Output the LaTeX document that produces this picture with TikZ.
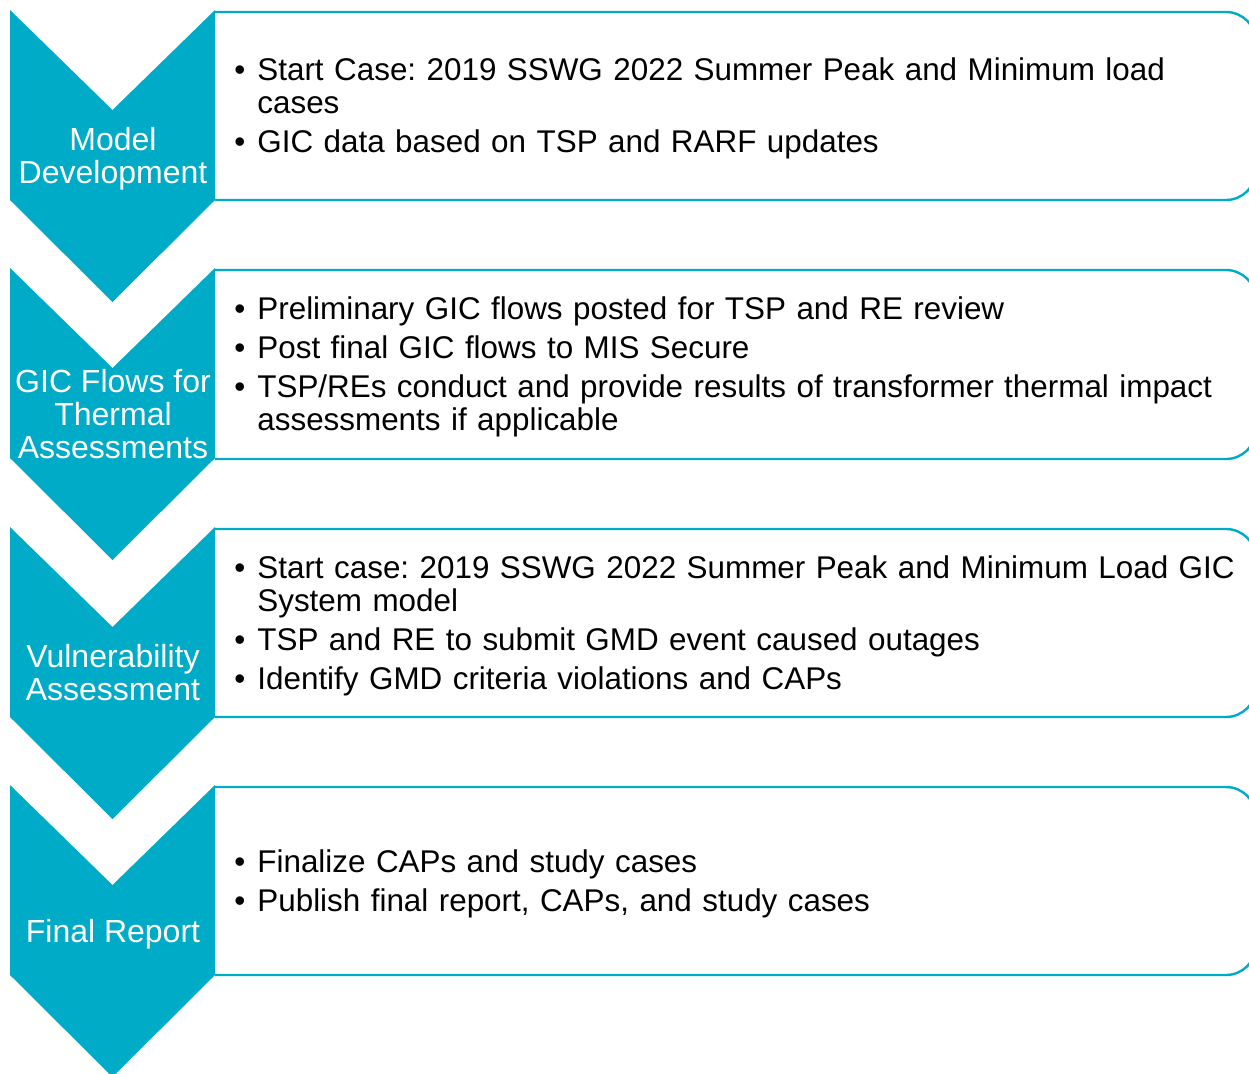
\documentclass[tikz,border=0pt]{standalone}
\usepackage{fontspec}
\setmainfont{Liberation Sans}
\usepackage{enumitem}
\usetikzlibrary{positioning}
\definecolor{StageTeal}{HTML}{00ABC8}

\setlist[itemize]{label=\textbullet, leftmargin=10pt, labelsep=6pt,
  topsep=0pt, partopsep=0pt, parsep=0pt, itemsep=3pt}

\begin{document}
\begin{tikzpicture}[x=0.5pt, y=-0.5pt,
    chevron/.pic={\fill[StageTeal] (0,0) -- (102.5,100) -- (205,0) -- (205,190)
      -- (102.5,292) -- (0,190) -- cycle;},
    panel/.style={draw=StageTeal, line width=1.2pt, fill=white, rounded corners=15pt},
    stage/.style={text=white, align=center, inner sep=0pt,
      font=\fontsize{16}{16.5}\selectfont},
    notes/.style={anchor=west, text width=530pt, align=left, inner sep=0pt,
      font=\fontsize{15.7}{16.5}\selectfont\frenchspacing}
  ]
    \useasboundingbox (0,0) rectangle (1249,1073);
    \clip (0,0) rectangle (1249,1073);

    % white panels behind the chevrons
    \filldraw[panel] (215,12) -- (1256,12) -- (1256,200) -- (215,200);
    \filldraw[panel] (215,270) -- (1256,270) -- (1256,459) -- (215,459);
    \filldraw[panel] (215,529) -- (1256,529) -- (1256,717) -- (215,717);
    \filldraw[panel] (215,787) -- (1256,787) -- (1256,975) -- (215,975);

    \pic at (10,10) {chevron};
    \pic at (10,268) {chevron};
    \pic at (10,527) {chevron};
    \pic at (10,785) {chevron};

    \node[stage] (model) at (113,159) {Model\\Development};
    \node[stage] (gicflows) at (113,414) {GIC Flows for\\Thermal\\Assessments};
    \node[stage] (vuln) at (113,673) {Vulnerability\\Assessment};
    \node[stage] (report) at (113,934) {Final Report};

    \node[notes] (modelnotes) at (237,103) {\begin{itemize}
      \item Start Case: 2019 SSWG 2022 Summer Peak and Minimum load\\cases
      \item GIC data based on TSP and RARF updates
    \end{itemize}};
    \node[notes] (gicnotes) at (237,362) {\begin{itemize}
      \item Preliminary GIC flows posted for TSP and RE review
      \item Post final GIC flows to MIS Secure
      \item TSP/REs conduct and provide results of transformer thermal impact\\assessments if applicable
    \end{itemize}};
    \node[notes] (vulnnotes) at (237,621) {\begin{itemize}
      \item Start case: 2019 SSWG 2022 Summer Peak and Minimum Load GIC\\System model
      \item TSP and RE to submit GMD event caused outages
      \item Identify GMD criteria violations and CAPs
    \end{itemize}};
    \node[notes] (reportnotes) at (237,879) {\begin{itemize}
      \item Finalize CAPs and study cases
      \item Publish final report, CAPs, and study cases
    \end{itemize}};
  \end{tikzpicture}
\end{document}
